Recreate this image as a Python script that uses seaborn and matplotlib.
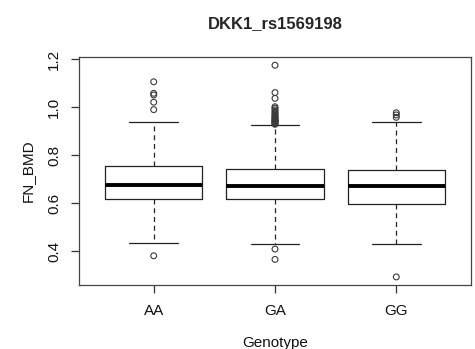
import matplotlib
matplotlib.use("Agg")
import matplotlib.pyplot as plt
import seaborn as sns
import pandas as pd

# ---- data ----
genotypes = ["AA", "GA", "GG"]
q1 = [0.615, 0.615, 0.597]
median = [0.675, 0.671, 0.672]
q3 = [0.754, 0.740, 0.738]
whisker_low = [0.433, 0.430, 0.430]
whisker_high = [0.939, 0.925, 0.936]
outliers_AA = [0.380, 0.989, 1.020, 1.050, 1.057, 1.105]
outliers_GA = [0.365, 0.408, 0.928, 0.931, 0.934, 0.937, 0.940, 0.943, 0.946,
               0.949, 0.953, 0.957, 0.961, 0.966, 0.971, 0.976, 0.982, 0.988,
               0.995, 1.001, 1.036, 1.060, 1.174]
outliers_GG = [0.292, 0.957, 0.967, 0.976]
yticks = [0.4, 0.6, 0.8, 1.0, 1.2]
title = "DKK1_rs1569198"
xlabel = "Genotype"
ylabel = "FN_BMD"

sns.set_theme(style="white")
plt.rcParams["font.family"] = ["Liberation Sans", "DejaVu Sans"]

fig = plt.figure(figsize=(4.75, 3.49), dpi=100)
ax_left, ax_w = 78.5 / 475, 393 / 475
ax = fig.add_axes([ax_left, 1 - 285 / 349, ax_w, 228 / 349])

out_df = pd.DataFrame({
    "Genotype": (["AA"] * len(outliers_AA) + ["GA"] * len(outliers_GA)
                 + ["GG"] * len(outliers_GG)),
    "FN_BMD": outliers_AA + outliers_GA + outliers_GG,
})
sns.stripplot(data=out_df, x="Genotype", y="FN_BMD", order=genotypes,
              jitter=False, size=4.2, color="white", ax=ax, zorder=3)
for coll in ax.collections:
    coll.set_facecolor("none")
    coll.set_edgecolor("#3a3a3a")
    coll.set_linewidth(0.8)

stats = []
for i, g in enumerate(genotypes):
    stats.append({"label": g, "q1": q1[i], "med": median[i], "q3": q3[i],
                  "whislo": whisker_low[i], "whishi": whisker_high[i],
                  "fliers": []})
ax.bxp(stats, positions=[0, 1, 2], widths=0.8, capwidths=0.4,
       showfliers=False, manage_ticks=False,
       boxprops=dict(color="#222222", linewidth=0.9),
       medianprops=dict(color="black", linewidth=2.8, solid_capstyle="butt"),
       whiskerprops=dict(color="#222222", linewidth=0.9, linestyle=(0, (4, 3))),
       capprops=dict(color="#222222", linewidth=0.9))

ax.set_xlim(-0.62, 2.62)
ax.set_ylim(0.2583, 1.2083)
ax.set_xticks([0, 1, 2])
ax.set_xticklabels(genotypes)
ax.set_yticks(yticks)
ax.set_yticklabels([f"{v:.1f}" for v in yticks], rotation=90, va="center")
ax.tick_params(axis="both", which="both", direction="out", length=6,
               width=0.9, color="#333333", labelsize=11, labelcolor="#111111",
               bottom=True, left=True)
ax.tick_params(axis="x", pad=8)
ax.tick_params(axis="y", pad=6.5)
for sp in ax.spines.values():
    sp.set_color("#444444")
    sp.set_linewidth(0.9)

ax.set_xlabel(xlabel, fontsize=11, color="#111111", labelpad=13)
ax.set_ylabel(ylabel, fontsize=11, color="#111111", labelpad=9)
fig.text(ax_left + ax_w / 2, 1 - 24 / 349, title,
         ha="center", va="center", fontsize=12, fontweight="bold")

fig.savefig("out.png", dpi=100)
